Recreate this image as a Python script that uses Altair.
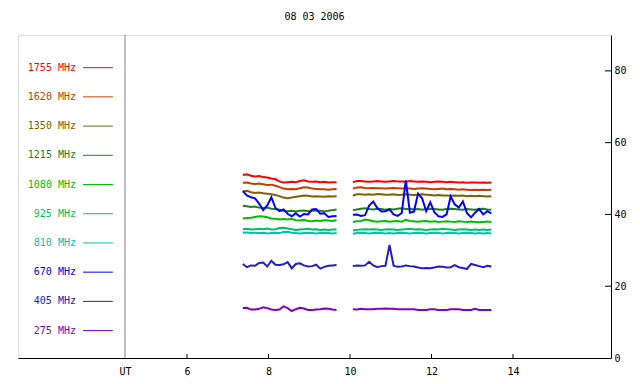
import altair as alt
import pandas as pd

title_text = "08 03 2006"
freqs = ["1755 MHz", "1620 MHz", "1350 MHz", "1215 MHz", "1080 MHz",
         "925 MHz", "810 MHz", "670 MHz", "405 MHz", "275 MHz"]
colors = ["#ff0000", "#c04000", "#806000", "#208020", "#00c000",
          "#00c060", "#00c0c0", "#0000ff", "#2020c0", "#8000c0"]

x_ticks = [6, 8, 10, 12, 14]
y_ticks = [0, 20, 40, 60, 80]
ut_pos = 4.479

# time grids (hours UT) for the two observing segments
seg1_start, seg1_n = 7.37, 24
seg2_start, seg2_n = 10.07, 35

seg1 = {
    "1755 MHz": [51.0, 51.2, 50.8, 50.6, 50.7, 50.4, 50.3, 50.0, 49.8, 49.2, 48.9, 49.0,
                 49.1, 49.0, 49.3, 49.5, 49.2, 49.1, 49.2, 49.0, 49.1, 48.9, 49.0, 49.0],
    "1620 MHz": [48.8, 48.9, 48.6, 48.5, 48.6, 48.4, 48.2, 48.3, 48.0, 47.6, 47.2, 47.0,
                 47.1, 47.0, 47.3, 47.6, 47.5, 47.2, 47.1, 47.0, 47.0, 46.9, 47.0, 47.1],
    "1350 MHz": [46.4, 46.6, 46.2, 46.0, 46.1, 45.9, 45.8, 45.6, 45.4, 45.1, 44.7, 44.5,
                 44.7, 44.9, 45.1, 45.3, 45.2, 45.0, 45.1, 45.0, 44.9, 45.1, 45.0, 45.1],
    "1215 MHz": [42.4, 42.3, 42.1, 42.2, 41.9, 41.8, 41.9, 41.6, 41.5, 41.3, 41.0, 40.9,
                 41.0, 40.8, 41.0, 41.1, 40.9, 41.0, 41.1, 41.0, 40.8, 41.0, 41.2, 41.4],
    "1080 MHz": [38.9, 39.0, 39.1, 39.3, 39.5, 39.4, 39.2, 38.9, 38.8, 38.6, 38.7, 38.6,
                 38.8, 38.4, 38.3, 38.5, 38.2, 38.1, 38.3, 38.2, 38.4, 38.3, 38.2, 38.4],
    "925 MHz": [35.9, 36.0, 35.8, 35.9, 36.0, 35.9, 36.1, 35.8, 35.9, 36.2, 36.3, 36.1,
                35.9, 35.7, 35.8, 35.9, 36.0, 35.8, 35.9, 35.7, 35.8, 35.7, 35.8, 35.8],
    "810 MHz": [34.9, 35.0, 34.8, 34.9, 34.8, 34.9, 34.7, 34.8, 34.9, 34.8, 35.1, 35.2,
                34.9, 34.8, 34.7, 34.8, 34.9, 34.8, 34.7, 34.8, 34.9, 34.8, 34.7, 34.8],
    "670 MHz": [46.5, 45.3, 44.8, 44.5, 43.0, 41.2, 42.5, 44.8, 41.8, 40.9, 41.4, 40.2,
                39.5, 40.3, 39.4, 40.1, 40.0, 41.4, 41.5, 40.2, 40.3, 39.3, 39.5, 39.6],
    "405 MHz": [26.2, 25.3, 25.8, 25.7, 26.5, 26.6, 25.5, 27.1, 26.0, 25.9, 26.1, 26.7,
                25.0, 26.2, 26.4, 25.8, 25.5, 25.6, 26.0, 24.9, 25.4, 25.7, 25.8, 25.9],
    "275 MHz": [13.9, 14.0, 13.5, 13.5, 13.7, 14.1, 13.9, 13.5, 13.4, 13.5, 14.4, 13.9,
                13.1, 13.6, 14.0, 13.8, 13.4, 13.4, 13.5, 13.6, 13.8, 13.7, 13.5, 13.4],
}

seg2 = {
    "1755 MHz": [49.0, 49.3, 49.3, 49.2, 49.1, 49.2, 49.3, 49.2, 49.1, 49.2, 49.3, 49.2,
                 49.2, 49.1, 49.3, 49.2, 49.1, 49.2, 49.1, 49.0, 49.1, 49.2, 49.1, 49.0,
                 49.1, 49.0, 48.9, 49.0, 48.8, 48.9, 48.9, 48.8, 48.9, 48.8, 48.9],
    "1620 MHz": [47.2, 47.5, 47.6, 47.4, 47.3, 47.4, 47.3, 47.3, 47.2, 47.3, 47.4, 47.3,
                 47.2, 47.3, 47.2, 47.1, 47.2, 47.3, 47.2, 47.1, 47.0, 47.1, 47.2, 47.0,
                 47.1, 47.0, 46.9, 47.0, 46.9, 46.8, 46.9, 46.8, 46.9, 46.8, 46.9],
    "1350 MHz": [45.3, 45.6, 45.6, 45.5, 45.6, 45.5, 45.7, 45.6, 45.5, 45.5, 45.6, 45.4,
                 45.5, 45.6, 45.5, 45.4, 45.5, 45.6, 45.5, 45.4, 45.3, 45.4, 45.3, 45.3,
                 45.2, 45.3, 45.2, 45.3, 45.1, 45.2, 45.1, 45.2, 45.1, 45.0, 45.1],
    "1215 MHz": [41.2, 41.4, 41.6, 41.7, 41.5, 41.4, 41.6, 41.5, 41.3, 41.5, 41.4, 41.6,
                 41.7, 41.5, 41.6, 41.4, 41.5, 41.3, 41.5, 41.6, 41.5, 41.4, 41.3, 41.5,
                 41.6, 41.5, 41.4, 41.3, 41.5, 41.4, 41.3, 41.5, 41.6, 41.4, 41.3],
    "1080 MHz": [37.9, 38.1, 38.2, 38.6, 38.4, 38.1, 38.0, 38.1, 38.2, 38.0, 38.1, 38.2,
                 38.0, 38.5, 38.2, 38.1, 38.0, 38.1, 38.2, 38.0, 38.1, 37.9, 38.0, 38.1,
                 38.0, 37.9, 38.1, 38.0, 37.9, 38.0, 37.9, 37.8, 37.9, 38.0, 37.9],
    "925 MHz": [35.5, 35.7, 35.8, 35.9, 35.8, 35.9, 35.8, 35.7, 35.8, 35.9, 35.8, 35.7,
                35.8, 35.9, 36.0, 35.8, 35.9, 35.8, 35.7, 35.8, 35.9, 35.8, 36.0, 35.9,
                35.8, 35.7, 35.8, 35.9, 35.8, 35.7, 35.8, 35.7, 35.8, 35.7, 35.8],
    "810 MHz": [34.6, 34.8, 34.9, 34.8, 34.7, 34.8, 34.9, 34.8, 34.7, 34.8, 34.7, 34.8,
                34.9, 34.8, 34.7, 34.8, 34.9, 34.8, 34.7, 34.8, 34.9, 34.8, 34.7, 34.8,
                34.9, 34.8, 34.7, 34.8, 34.9, 34.8, 34.7, 34.8, 34.7, 34.8, 34.7],
    "670 MHz": [39.9, 40.0, 39.6, 39.8, 42.5, 43.6, 41.8, 40.8, 40.9, 41.4, 40.0, 39.6,
                40.4, 49.5, 40.5, 40.8, 45.8, 44.5, 40.9, 43.4, 40.6, 39.5, 39.3, 40.0,
                45.0, 42.8, 41.9, 43.6, 40.4, 39.2, 40.5, 41.5, 40.0, 40.9, 40.3],
    "405 MHz": [25.6, 25.8, 25.7, 25.8, 26.8, 25.8, 25.3, 25.6, 25.7, 31.5, 25.7, 25.4,
                25.5, 25.8, 25.6, 25.5, 25.2, 25.0, 25.1, 25.0, 25.2, 25.5, 25.4, 25.2,
                25.3, 25.9, 25.3, 25.1, 24.8, 26.2, 25.9, 25.6, 25.3, 25.7, 25.5],
    "275 MHz": [13.6, 13.5, 13.7, 13.6, 13.6, 13.6, 13.7, 13.7, 13.8, 13.7, 13.7, 13.6,
                13.6, 13.6, 13.6, 13.6, 13.4, 13.4, 13.4, 13.6, 13.6, 13.4, 13.4, 13.4,
                13.6, 13.6, 13.6, 13.4, 13.4, 13.4, 13.7, 13.4, 13.4, 13.4, 13.4],
}

rows = []
for f in freqs:
    for i, v in enumerate(seg1[f]):
        rows.append({"freq": f, "seg": f + "-1", "t": seg1_start + 0.1 * i, "v": v})
    for j, v in enumerate(seg2[f]):
        rows.append({"freq": f, "seg": f + "-2", "t": seg2_start + 0.1 * j, "v": v})
df = pd.DataFrame(rows)

# legend placement (layout, in axis units)
leg = pd.DataFrame({
    "freq": freqs,
    "ly": [80.9 - 8.14 * k for k in range(len(freqs))],
    "tx": 3.276, "lx1": 3.45, "lx2": 4.18,
})

FONT = "DejaVu Sans Mono"
W, H = 593, 323
xscale = alt.Scale(domain=[1.853, 16.405], nice=False, zero=False)
yscale = alt.Scale(domain=[0, 90], nice=False, zero=False)
cscale = alt.Scale(domain=freqs, range=colors)

x_axis = alt.Axis(values=[ut_pos] + x_ticks, labelExpr="datum.value < 5 ? 'UT' : datum.label",
                  tickSize=0, grid=False, title=None, labelFont=FONT, labelFontSize=10,
                  labelColor="black", domainColor="black", labelPadding=8, labelFlush=False)
y_axis = alt.Axis(orient="right", values=y_ticks, tickSize=0, grid=False, title=None,
                  labelFont=FONT, labelFontSize=10, labelColor="black", domainColor="black",
                  labelPadding=3, labelFlush=False)

lines = alt.Chart(df).mark_line(strokeWidth=2).encode(
    x=alt.X("t:Q", scale=xscale, axis=x_axis),
    y=alt.Y("v:Q", scale=yscale, axis=y_axis),
    color=alt.Color("freq:N", scale=cscale, legend=None),
    detail="seg:N",
)

leg_text = alt.Chart(leg).mark_text(align="right", baseline="middle", font=FONT, fontSize=10).encode(
    x=alt.X("tx:Q", scale=xscale), y=alt.Y("ly:Q", scale=yscale),
    text="freq:N", color=alt.Color("freq:N", scale=cscale, legend=None),
)
leg_lines = alt.Chart(leg).mark_rule(strokeWidth=1).encode(
    x=alt.X("lx1:Q", scale=xscale), x2="lx2:Q", y=alt.Y("ly:Q", scale=yscale),
    color=alt.Color("freq:N", scale=cscale, legend=None),
)

ut_line = alt.Chart(pd.DataFrame({"t": [ut_pos]})).mark_rule(color="#808080", strokeWidth=1).encode(
    x=alt.X("t:Q", scale=xscale), y=alt.value(0), y2=alt.value(H),
)

xt = alt.Chart(pd.DataFrame({"t": x_ticks})).mark_rule(color="black", strokeWidth=1).encode(
    x=alt.X("t:Q", scale=xscale), y=alt.value(H - 4), y2=alt.value(H),
)
yt = alt.Chart(pd.DataFrame({"v": y_ticks[1:]})).mark_rule(color="black", strokeWidth=1).encode(
    y=alt.Y("v:Q", scale=yscale), x=alt.value(W - 6), x2=alt.value(W),
)

chart = alt.layer(ut_line, lines, leg_lines, leg_text, xt, yt).properties(
    width=W, height=H,
    title=alt.TitleParams(title_text, font=FONT, fontSize=10, fontWeight="normal",
                          anchor="middle", offset=13, color="black"),
    autosize=alt.AutoSizeParams(type="none"),
    padding={"left": 10, "top": 27, "right": 21, "bottom": 18},
).configure_view(stroke="black", strokeWidth=1).configure(background="white")

chart.save("out.html", embed_options={"renderer": "svg", "actions": False})
